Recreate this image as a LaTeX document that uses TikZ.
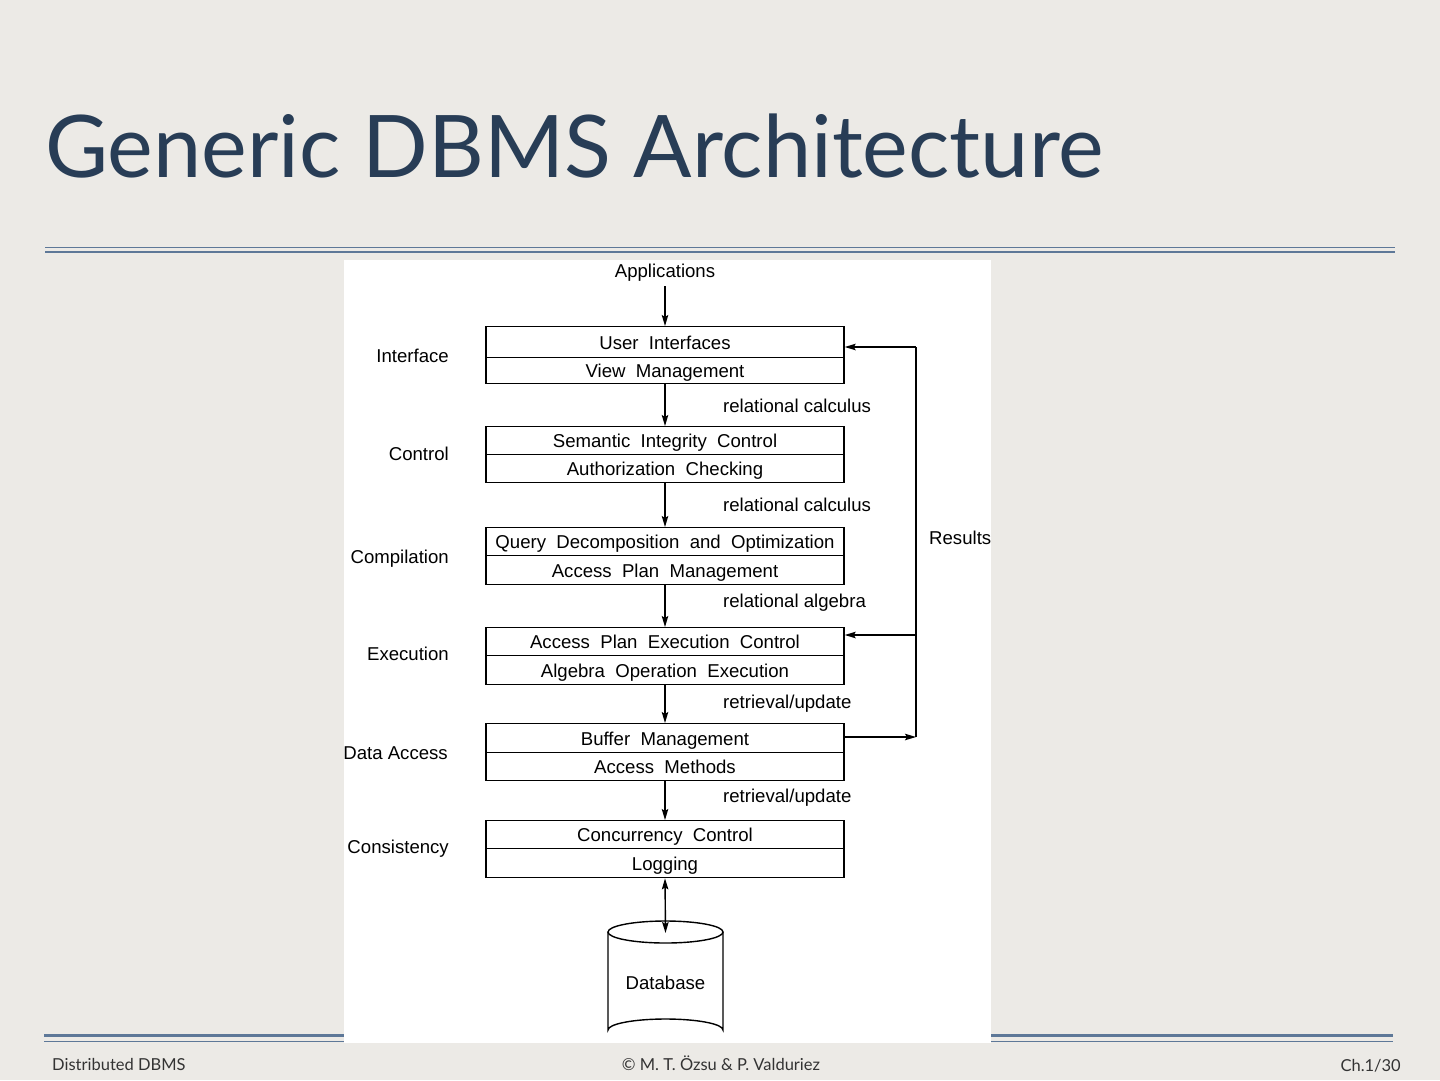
\documentclass[tikz,border=0pt]{standalone}
\usepackage{fontspec}
\setmainfont{Liberation Sans}
\newfontfamily\slidefont{Lato}
\usetikzlibrary{arrows.meta}
\definecolor{bgc}{HTML}{ECEAE6}
\definecolor{titlec}{HTML}{283D56}
\definecolor{rulec}{HTML}{5E7898}
\definecolor{footc}{HTML}{333333}
\tikzset{
  tip/.tip={Stealth[length=11pt,width=6.5pt,inset=2pt]},
  wire/.style={line width=1.4pt},
  arr/.style={-tip, wire},
  darr/.style={tip-tip, wire},
  layer/.style={draw, wire, minimum width=358pt, inner sep=0pt, anchor=north,
    font=\fontsize{18.6}{22}\selectfont, text height=16pt, text depth=2pt},
  lbl/.style={font=\fontsize{18.6}{22}\selectfont, inner sep=0pt, text height=16pt, text depth=2pt},
  side/.style={lbl, anchor=east},
  flow/.style={lbl, anchor=west},
  foot/.style={font=\slidefont\fontsize{16.5}{19}\selectfont, text=footc, inner sep=0pt},
}
\begin{document}
\begin{tikzpicture}[x=1pt,y=-1pt]
\useasboundingbox (0,0) rectangle (1440,1080);
\fill[bgc] (0,0) rectangle (1440,1080);
% rules
\draw[rulec, line width=1pt] (45,247) -- (1395,247);
\draw[rulec, line width=2.6pt] (45,252) -- (1395,252);
\draw[rulec, line width=2.6pt] (44,1035.5) -- (1393,1035.5);
\draw[rulec, line width=1pt] (44,1041) -- (1393,1041);
% title
\node[anchor=base west, inner sep=0pt, text=titlec, font=\slidefont\fontsize{86.4}{100}\selectfont] (title) at (45,177) {Generic DBMS Architecture};
% panel
\fill[white] (344,260) rectangle (991,1043);
% layers
\node[lbl] (app) at (665,270) {Applications};
\node[layer, minimum height=31pt] (b1u) at (665,326) {User\ \ Interfaces};
\node[layer, minimum height=26pt] (b1l) at (665,357) {View\ \ Management};
\node[layer, minimum height=28pt] (b2u) at (665,426) {Semantic\ \ Integrity\ \ Control};
\node[layer, minimum height=28pt] (b2l) at (665,454) {Authorization\ \ Checking};
\node[layer, minimum height=28pt] (b3u) at (665,527) {Query\ \ Decomposition\ \ and\ \ Optimization};
\node[layer, minimum height=29pt] (b3l) at (665,555) {Access\ \ Plan\ \ Management};
\node[layer, minimum height=28pt] (b4u) at (665,627) {Access\ \ Plan\ \ Execution\ \ Control};
\node[layer, minimum height=29pt] (b4l) at (665,655) {Algebra\ \ Operation\ \ Execution};
\node[layer, minimum height=29pt] (b5u) at (665,723) {Buffer\ \ Management};
\node[layer, minimum height=28pt] (b5l) at (665,752) {Access\ \ Methods};
\node[layer, minimum height=28pt] (b6u) at (665,820) {Concurrency\ \ Control};
\node[layer, minimum height=29pt] (b6l) at (665,848) {Logging};
% side labels
\node[side] (s1) at (449,355) {Interface};
\node[side] (s2) at (449,453) {Control};
\node[side] (s3) at (449,556) {Compilation};
\node[side] (s4) at (449,653) {Execution};
\node[side] (s5) at (448,752) {Data Access};
\node[side] (s6) at (449,846) {Consistency};
% flow labels
\node[flow] (f1) at (723,405) {relational calculus};
\node[flow] (f2) at (723,504) {relational calculus};
\node[flow] (f3) at (723,600) {relational algebra};
\node[flow] (f4) at (723,701) {retrieval/update};
\node[flow] (f5) at (723,795) {retrieval/update};
% arrows
\coordinate (a0) at (665,286);
\draw[arr] (a0) -- (b1u.north);
\draw[arr] (b1l.south) -- (b2u.north);
\draw[arr] (b2l.south) -- (b3u.north);
\draw[arr] (b3l.south) -- (b4u.north);
\draw[arr] (b4l.south) -- (b5u.north);
\draw[arr] (b5l.south) -- (b6u.north);
% results loop
\coordinate (r1) at (916,347);
\coordinate (r4) at (916,635);
\coordinate (r5) at (916,737);
\node[lbl, anchor=west] (res) at (929,537) {Results};
\draw[wire] (r5) -- (r1);
\draw[arr] (r1) -- (r1 -| b1u.east);
\draw[arr] (r4) -- (r4 -| b4u.east);
\draw[arr] (r5 -| b5u.east) -- (r5);
% database
\node[lbl] (db) at (665.5,982) {Database};
\coordinate (dbtop) at (665.5,933);
\draw[wire] (665.5,932) ellipse [x radius=57.5, y radius=11];
\draw[wire] (608,932) -- (608,1030) arc[start angle=180, end angle=360, x radius=57.5, y radius=11] -- (723,932);
\draw[darr] (b6l.south) -- (dbtop);
% footer
\node[foot, anchor=base west] (ft1) at (52,1070) {Distributed DBMS};
\node[foot, anchor=base] (ft2) at (721,1070) {© M. T. Özsu \& P. Valduriez};
\node[foot, anchor=base east] (ft3) at (1401,1071) {Ch.1/30};
\end{tikzpicture}
\end{document}
